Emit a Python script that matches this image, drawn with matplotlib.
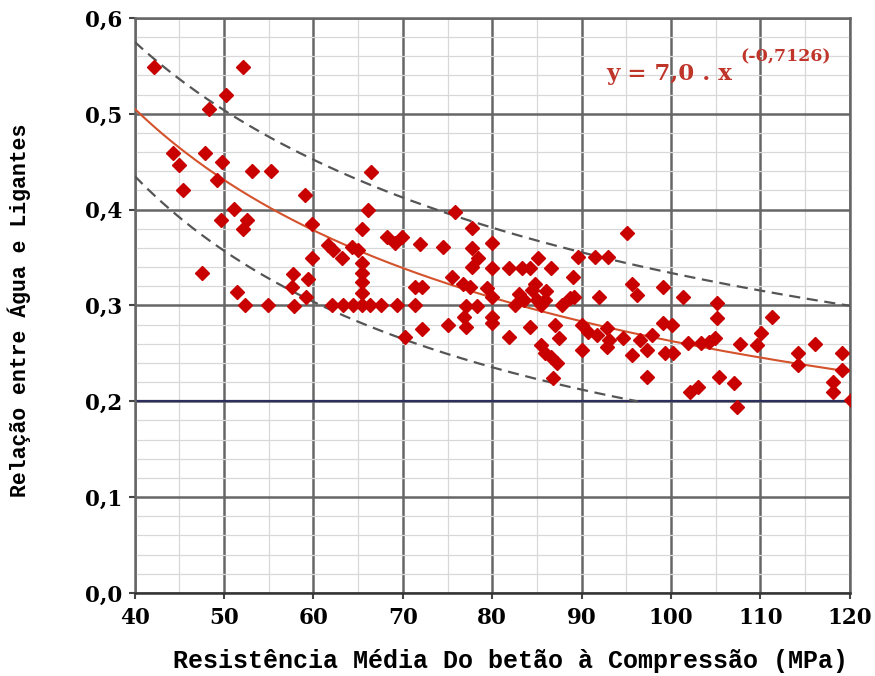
import numpy as np
import matplotlib as mpl
mpl.use('Agg')
from matplotlib import pyplot as plt
from matplotlib.ticker import MultipleLocator, FuncFormatter

# pontos medidos (resistencia MPa, relacao a/l)
res_x = [42.2, 52.1, 50.2, 48.3, 44.3, 45.0, 47.9, 49.8, 49.2, 45.4, 53.1, 55.3, 59.0, 51.1,
         49.7, 52.6, 52.1, 59.8, 59.8, 47.5, 57.7, 59.4, 57.6, 59.2, 51.4, 52.3, 54.9, 57.8,
         66.4, 66.1, 65.4, 68.2, 69.1, 69.9, 71.9, 74.5, 75.8, 61.6, 62.2, 63.2, 64.3, 65.0,
         65.4, 65.4, 65.4, 65.4, 65.4, 62.1, 63.3, 64.4, 66.3, 67.6, 69.3, 71.4, 71.4, 72.1,
         70.2, 72.2, 75.5, 75.0,
         77.7, 80.0, 95.1, 77.7, 78.4, 77.7, 80.0, 81.9, 83.3, 84.2, 85.1, 86.6, 89.0, 89.6,
         91.5, 93.0, 95.7, 96.2, 92.0, 76.7, 77.5, 79.4, 80.0, 77.1, 78.3, 76.9, 77.1, 80.0,
         80.0, 81.9, 82.5, 83.6, 84.4, 85.0, 85.5, 85.9, 84.2, 87.0, 87.8, 88.7, 89.2, 87.5,
         85.5, 85.9, 86.6, 87.2, 86.8, 90.1, 90.7, 91.7, 92.8, 93.1, 92.8, 90.1, 94.6, 95.6,
         96.5, 97.3, 83.0, 84.8, 86.0,
         99.1, 101.3, 105.2, 105.2, 99.1, 100.1, 111.3, 110.1, 109.6, 107.7, 97.9, 97.3, 101.9,
         103.4, 104.3, 104.9, 99.3, 100.2, 102.1, 103.0, 105.4, 107.1, 107.4, 114.2, 116.1,
         114.2, 119.1, 119.1, 118.1, 118.1, 120.2]
rel_y = [0.549, 0.549, 0.520, 0.505, 0.459, 0.447, 0.459, 0.450, 0.431, 0.420, 0.440, 0.440, 0.415, 0.401,
         0.389, 0.389, 0.380, 0.385, 0.350, 0.334, 0.333, 0.328, 0.319, 0.309, 0.314, 0.301, 0.301, 0.299,
         0.439, 0.400, 0.380, 0.371, 0.365, 0.371, 0.364, 0.361, 0.398, 0.363, 0.358, 0.350, 0.361, 0.358,
         0.344, 0.334, 0.324, 0.313, 0.301, 0.301, 0.301, 0.301, 0.301, 0.301, 0.301, 0.301, 0.319, 0.319,
         0.267, 0.275, 0.330, 0.280,
         0.381, 0.365, 0.376, 0.360, 0.350, 0.340, 0.339, 0.339, 0.339, 0.339, 0.350, 0.339, 0.330, 0.351,
         0.351, 0.351, 0.322, 0.311, 0.309, 0.322, 0.319, 0.318, 0.309, 0.299, 0.299, 0.288, 0.278, 0.288,
         0.282, 0.267, 0.301, 0.306, 0.316, 0.306, 0.301, 0.306, 0.278, 0.280, 0.301, 0.308, 0.309, 0.266,
         0.259, 0.250, 0.246, 0.240, 0.224, 0.280, 0.272, 0.269, 0.277, 0.264, 0.257, 0.254, 0.266, 0.248,
         0.264, 0.225, 0.312, 0.322, 0.315,
         0.319, 0.309, 0.303, 0.287, 0.282, 0.280, 0.288, 0.271, 0.259, 0.260, 0.269, 0.254, 0.261,
         0.261, 0.262, 0.266, 0.250, 0.250, 0.210, 0.215, 0.225, 0.219, 0.194, 0.250, 0.260,
         0.238, 0.250, 0.233, 0.220, 0.210, 0.201]

# curva de ajuste y = a * x^b e envolventes
fit_coef = [7.0, -0.7126]
upper_coef = [0.575 * 40 ** 0.593, -0.593]
lower_coef = [0.435 * 40 ** 0.885, -0.885]
lower_end = 96.3

fig = plt.figure(figsize=(8.75, 6.76), dpi=100)
ax = fig.add_axes([0.154, 0.1228, 0.817, 0.8506])

xx = np.linspace(40, 120, 200)
ax.plot(xx, fit_coef[0] * xx ** fit_coef[1], color='#d4522c', lw=1.5, zorder=3)
ax.plot(xx, upper_coef[0] * xx ** upper_coef[1], color='#555555', lw=1.6, ls=(0, (5, 3)), zorder=3)
xl = np.linspace(40, lower_end, 150)
ax.plot(xl, lower_coef[0] * xl ** lower_coef[1], color='#555555', lw=1.6, ls=(0, (5, 3)), zorder=3)

ax.plot(res_x, rel_y, 'D', color='#c80000', ms=7.3, mec='#c80000', zorder=4)

ax.set_xlim(40, 120)
ax.set_ylim(0, 0.6)
ax.xaxis.set_major_locator(MultipleLocator(10))
ax.xaxis.set_minor_locator(MultipleLocator(5))
ax.yaxis.set_major_locator(MultipleLocator(0.1))
ax.yaxis.set_minor_locator(MultipleLocator(0.02))
ax.grid(which='major', color='#666666', lw=1.8)
ax.grid(which='minor', color='#d8d8d8', lw=0.9)
ax.axhline(0.2, color='#2e2e5e', lw=1.6, zorder=2)
ax.set_axisbelow(True)
for s in ax.spines.values():
    s.set_color('#666666')
    s.set_linewidth(1.8)
ax.spines['bottom'].set_color('#333333')

ax.yaxis.set_major_formatter(FuncFormatter(lambda v, p: ('%.1f' % v).replace('.', ',')))
ax.tick_params(which='major', length=4, color='#444444', width=1.5)
ax.tick_params(which='minor', length=0)
for lab in ax.get_xticklabels() + ax.get_yticklabels():
    lab.set_family('DejaVu Serif')
    lab.set_weight('bold')
    lab.set_fontsize(15.5)
ax.tick_params(axis='x', pad=6)
ax.tick_params(axis='y', pad=5)

ax.set_xlabel('Resistência Média Do betão à Compressão (MPa)', family='Liberation Mono',
              weight='bold', fontsize=18)
ax.xaxis.set_label_coords(0.525, -0.098)
ax.set_ylabel('Relação entre Água e Ligantes', family='Liberation Mono',
              weight='bold', fontsize=15.5)
ax.yaxis.set_label_coords(-0.145, 0.492)

ax.text(92.8, 0.535, 'y = 7,0 . x', color='#c0352a', family='DejaVu Serif',
        weight='bold', fontsize=16.5)
ax.text(107.8, 0.555, '(-0,7126)', color='#c0352a', family='DejaVu Serif',
        weight='bold', fontsize=12.5)

plt.savefig('out.png', dpi=100)
